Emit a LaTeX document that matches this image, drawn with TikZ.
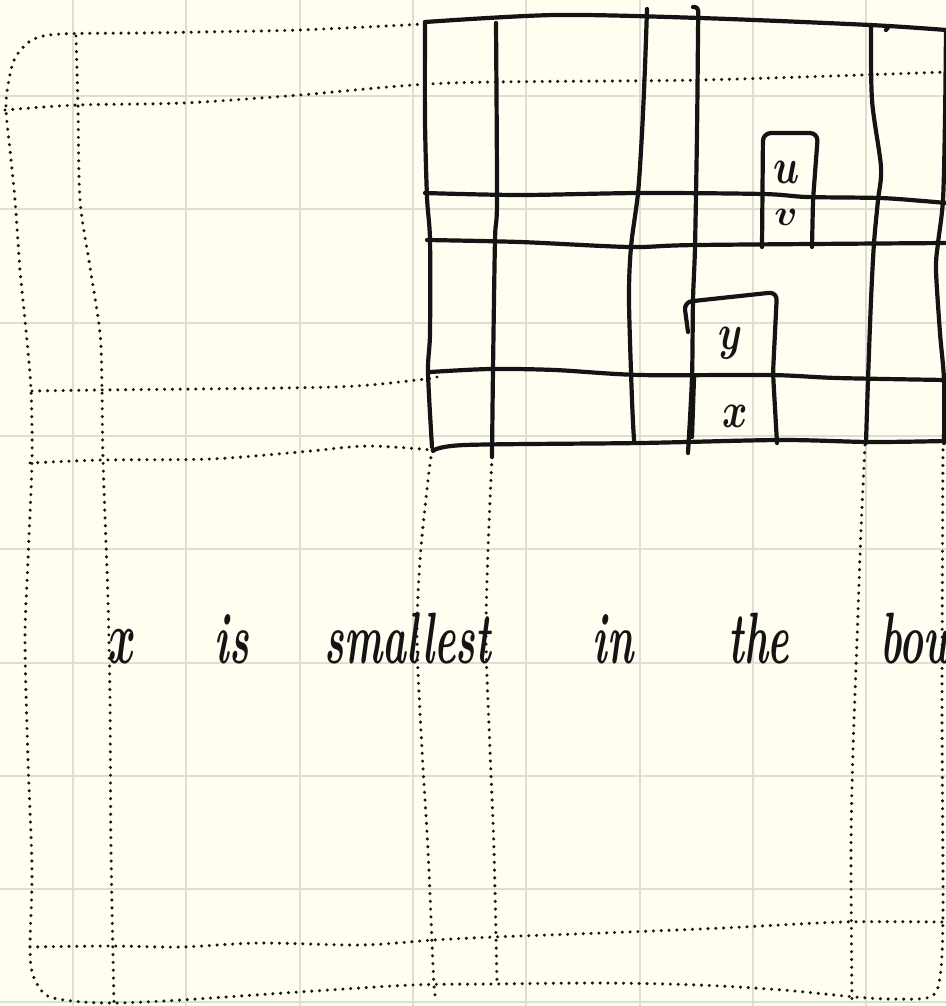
\documentclass[tikz,border=0pt]{standalone}
\usepackage{graphicx}
\usetikzlibrary{positioning}
\definecolor{paper}{HTML}{FFFEF1}
\definecolor{rule}{HTML}{DFDED4}
\definecolor{ink}{HTML}{141414}
\newcommand{\tallword}[2]{\scalebox{1}[#1]{#2}}

\begin{document}
\begin{tikzpicture}[x=0.1mm, y=-0.1mm,
	solidline/.style={draw=ink, line width=0.42mm, line cap=round, line join=round},
	dotline/.style={draw=ink, line width=0.34mm, line cap=round, dash pattern=on 0pt off 0.78mm},
	word/.style={inner sep=0pt, anchor=base, text=ink, font=\fontsize{11.5}{14}\selectfont\bfseries\itshape\boldmath},
	cell/.style={inner sep=0pt, anchor=base, text=ink, font=\fontsize{11}{13}\selectfont\boldmath}]
		% Paper
		\fill[paper] (0,0) rectangle (946,1006);
		\useasboundingbox (0,0) rectangle (946,1006);
		\foreach \k in {0,...,7}
			\draw[rule, line width=0.2mm] ({73+113.3*\k},0) -- ({73+113.3*\k},1006);
		\foreach \k in {0,...,8}
			\draw[rule, line width=0.2mm] (0,{96+113.3*\k}) -- (946,{96+113.3*\k});
		
		% Outer dotted domain
		\draw[dotline] plot[smooth, tension=0.5] coordinates {(425,24) (300,30) (200,32) (140,33) (60,34) (32,40) (15,58) (8,85) (6,110) (10,150) (15,200) (20,270) (26,330) (31,390) (32,460) (28,560) (25,640) (28,760) (32,870) (30,947) (33,975) (46,995) (72,1001) (114,1003) (181,1000) (299,992) (412,985) (494,984) (602,983) (699,985) (783,990) (855,997) (891,999) (930,997) (940,977) (943,910) (942,700) (943,445)};
		% Dotted rows
		\draw[dotline] plot[smooth] coordinates {(5,110) (77,105) (183,103) (300,95) (450,83) (700,80) (946,72)};
		\draw[dotline] plot[smooth] coordinates {(32,391) (100,390) (333,387) (417,380) (437,377)};
		\draw[dotline] plot[smooth] coordinates {(30,463) (103,460) (210,459) (300,452) (367,446) (432,450)};
		\draw[dotline] plot[smooth] coordinates {(30,947) (111,946) (181,947) (259,943) (361,945) (434,940) (494,937) (602,933) (723,928) (843,922) (943,922)};
		% Dotted columns
		\draw[dotline] plot[smooth] coordinates {(76,36) (78,107) (80,200) (90,267) (100,333) (102,390) (103,460) (108,600) (110,700) (111,850) (114,1003)};
		\draw[dotline] plot[smooth] coordinates {(432,450) (428,480) (420,560) (417,640) (422,750) (428,850) (434,985) (437,995)};
		\draw[dotline] plot[smooth] coordinates {(492,457) (488,550) (486,640) (490,750) (494,850) (497,984)};
		\draw[dotline] plot[smooth] coordinates {(865,445) (861,530) (857,640) (853,750) (851,850) (852,1003)};
		
		% Solid grid, rows
		\draw[solidline] plot[smooth] coordinates {(425,22) (555,15) (700,18) (870,25) (946,30)};
		\draw[solidline] (886,30) -- (889,26);
		\draw[solidline] plot[smooth] coordinates {(425,193) (520,195) (640,193) (763,194) (807,197) (880,198) (923,201) (946,203)};
		\draw[solidline] plot[smooth] coordinates {(427,240) (520,242) (630,247) (697,245) (946,243)};
		\draw[solidline] plot[smooth] coordinates {(430,372) (490,369) (555,370) (640,375) (770,375) (837,378) (946,380)};
		\draw[solidline] plot[smooth] coordinates {(433,451) (465,445) (640,443) (780,440) (870,442) (946,441)};
		% Solid grid, columns
		\draw[solidline] plot[smooth] coordinates {(425,22) (425,120) (427,197) (430,240) (430,333) (428,372) (432,447)};
		\draw[solidline] plot[smooth] coordinates {(496,23) (497,200) (495,240) (493,370) (492,457)};
		\draw[solidline] plot[smooth] coordinates {(647,9) (645,67) (642,133) (638,193) (631,247) (629,300) (632,400) (634,440)};
		\draw[solidline] plot[smooth] coordinates {(693,7) (698,10) (698,33) (697,133) (695,247) (693,300) (692,377) (688,453)};
		\draw[solidline] plot[smooth] coordinates {(871,25) (872,100) (881,167) (878,200) (874,243) (871,300) (868,380) (866,443)};
		\draw[solidline] plot[smooth] coordinates {(946,30) (945,120) (943,200) (938,243) (936,270) (940,333) (944,380) (944,443)};
		
		% Small boxes
		\draw[solidline, rounded corners=0.8mm] (762,247) -- (763,133) -- (818,133) -- (813,200) -- (812,247);
		\draw[solidline, rounded corners=0.8mm] (688,332) -- (684,302) -- (777,292) -- (773,373) -- (777,443);
		\draw[solidline] (694,378) -- (692,437);
		\node[cell] (labu) at (787,183) {\tallword{1.3}{$u$}};
		\node[cell] (labv) at (786,225) {\tallword{0.95}{$v$}};
		\node[cell] (laby) at (731,349) {\tallword{1.3}{$y$}};
		\node[cell] (labx) at (735,427) {\tallword{1.3}{$x$}};
		
		% Sentence
		\node[word] (wx) at (122,663) {\tallword{1.8}{$x$}};
		\node[word] (wis) at (232,663) {\tallword{1.8}{is}};
		\node[word] (wsmallest) at (408,663) {\tallword{1.8}{smallest}};
		\node[word] (win) at (613,663) {\tallword{1.8}{in}};
		\node[word] (wthe) at (759,663) {\tallword{1.8}{the}};
		\node[word, anchor=base west] (wbou) at (880,663) {\tallword{1.8}{bou}};
	\end{tikzpicture}
\end{document}
